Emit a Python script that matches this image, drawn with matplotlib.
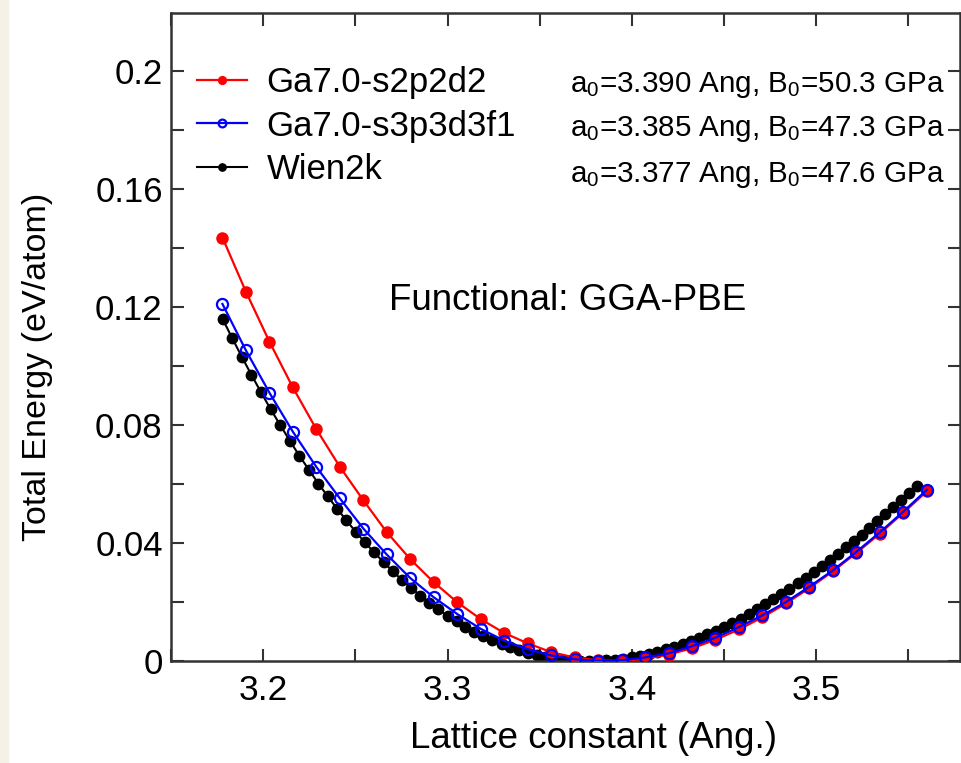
import matplotlib

matplotlib.use("Agg")

import matplotlib.pyplot as plt
from matplotlib.patches import Rectangle
from matplotlib.ticker import MultipleLocator

plt.rcParams["font.family"] = ["Liberation Sans", "DejaVu Sans"]
plt.rcParams["mathtext.fontset"] = "custom"
plt.rcParams["mathtext.rm"] = "Liberation Sans"
plt.rcParams["mathtext.default"] = "regular"

# Ga7.0 (OpenMX) curves: same lattice grid for both bases.
LATT = [3.1779, 3.1906, 3.2034, 3.2161, 3.2288, 3.2416, 3.2543, 3.2670,
        3.2798, 3.2925, 3.3053, 3.3180, 3.3307, 3.3435, 3.3562, 3.3689,
        3.3817, 3.3944, 3.4071, 3.4199, 3.4326, 3.4453, 3.4581, 3.4708,
        3.4836, 3.4963, 3.5090, 3.5218, 3.5345, 3.5472, 3.5600]
E_S2P2D2 = [0.1435, 0.1252, 0.1082, 0.0927, 0.0786, 0.0658, 0.0545, 0.0437,
            0.0345, 0.0267, 0.0199, 0.0142, 0.0095, 0.0060, 0.0030, 0.0012,
            0.0002, 0.0000, 0.0007, 0.0022, 0.0043, 0.0072, 0.0107, 0.0148,
            0.0195, 0.0247, 0.0304, 0.0366, 0.0432, 0.0502, 0.0575]
E_S3P3D3F1 = [0.1210, 0.1053, 0.0909, 0.0777, 0.0658, 0.0551, 0.0449, 0.0361,
              0.0281, 0.0216, 0.0159, 0.0109, 0.0069, 0.0040, 0.0019, 0.0006,
              0.0000, 0.0002, 0.0012, 0.0026, 0.0050, 0.0079, 0.0115, 0.0155,
              0.0200, 0.0252, 0.0307, 0.0370, 0.0436, 0.0506, 0.0580]

# Wien2k reference, denser grid
LATT_WIEN = [3.1780, 3.1832, 3.1884, 3.1936, 3.1988, 3.2040, 3.2092, 3.2144,
             3.2196, 3.2248, 3.2300, 3.2350, 3.2401, 3.2451, 3.2502, 3.2552,
             3.2602, 3.2653, 3.2703, 3.2754, 3.2804, 3.2853, 3.2902, 3.2951,
             3.3000, 3.3049, 3.3097, 3.3146, 3.3195, 3.3244, 3.3293, 3.3341,
             3.3388, 3.3436, 3.3483, 3.3531, 3.3578, 3.3626, 3.3673, 3.3721,
             3.3768, 3.3814, 3.3860, 3.3907, 3.3953, 3.3999, 3.4045, 3.4091,
             3.4138, 3.4184, 3.4230, 3.4275, 3.4320, 3.4365, 3.4410, 3.4455,
             3.4500, 3.4545, 3.4590, 3.4635, 3.4680, 3.4724, 3.4768, 3.4811,
             3.4855, 3.4899, 3.4943, 3.4987, 3.5030, 3.5074, 3.5118, 3.5161,
             3.5204, 3.5246, 3.5289, 3.5332, 3.5375, 3.5418, 3.5460, 3.5503,
             3.5546]
E_WIEN = [0.1159, 0.1094, 0.1031, 0.0970, 0.0911, 0.0854, 0.0800, 0.0747,
          0.0696, 0.0648, 0.0601, 0.0558, 0.0516, 0.0477, 0.0438, 0.0402,
          0.0368, 0.0335, 0.0304, 0.0274, 0.0247, 0.0221, 0.0197, 0.0175,
          0.0153, 0.0134, 0.0116, 0.0099, 0.0084, 0.0070, 0.0057, 0.0046,
          0.0036, 0.0028, 0.0020, 0.0014, 0.0009, 0.0005, 0.0002, 0.0001,
          0.0000, 0.0000, 0.0002, 0.0004, 0.0008, 0.0012, 0.0017, 0.0024,
          0.0031, 0.0039, 0.0048, 0.0057, 0.0067, 0.0078, 0.0090, 0.0103,
          0.0116, 0.0130, 0.0144, 0.0160, 0.0176, 0.0192, 0.0209, 0.0226,
          0.0244, 0.0263, 0.0282, 0.0302, 0.0322, 0.0342, 0.0364, 0.0385,
          0.0407, 0.0428, 0.0451, 0.0474, 0.0497, 0.0521, 0.0545, 0.0569,
          0.0594]

LABELS = ["Ga7.0-s2p2d2", "Ga7.0-s3p3d3f1", "Wien2k"]
FIT_A0 = ["3.390", "3.385", "3.377"]
FIT_B0 = ["50.3", "47.3", "47.6"]

SPINE = "#333333"

fig = plt.figure(figsize=(9.62, 7.63), dpi=100)
fig.patches.append(Rectangle((0, 0), 8 / 962, 1, transform=fig.transFigure,
                             color="#f6f1e6", zorder=-1))
ax = fig.add_axes([171 / 962, 1 - 661 / 763, 789 / 962, 648 / 763])

(h_wien,) = ax.plot(LATT_WIEN, E_WIEN, "-o", color="black", lw=1.5, ms=7.5,
                    zorder=2)
(h_s2,) = ax.plot(LATT, E_S2P2D2, "-o", color="red", lw=1.6, ms=8, zorder=3)
(h_s3,) = ax.plot(LATT, E_S3P3D3F1, "-o", color="blue", lw=1.6, ms=8,
                  mfc="none", mew=1.6, zorder=4)

ax.set_xlim(3.15, 3.578)
ax.set_ylim(0, 0.2196)
ax.xaxis.set_major_locator(MultipleLocator(0.1))
ax.xaxis.set_minor_locator(MultipleLocator(0.05))
ax.yaxis.set_major_locator(MultipleLocator(0.04))
ax.yaxis.set_minor_locator(MultipleLocator(0.02))
ax.yaxis.set_major_formatter(lambda v, _: f"{v:g}")
ax.xaxis.set_major_formatter(lambda v, _: f"{v:g}")

ax.tick_params(which="both", direction="in", top=True, right=True,
               length=9, width=1.5, color=SPINE)
ax.tick_params(axis="y", labelsize=25, pad=6)
ax.tick_params(axis="x", labelsize=25.5, pad=9)
for sp in ax.spines.values():
    sp.set_color(SPINE)
    sp.set_linewidth(1.8)

ax.set_xlabel("Lattice constant (Ang.)", fontsize=26.5)
ax.set_ylabel("Total Energy (eV/atom)", fontsize=24.5)
ax.xaxis.set_label_coords(0.536, -0.092)
ax.yaxis.set_label_coords(-0.150, 0.454)

ax.legend([h_s2, h_s3, h_wien], LABELS, loc="upper left",
          bbox_to_anchor=(0.033, 0.918), frameon=False, fontsize=25,
          borderpad=0, borderaxespad=0, handlelength=1.45, handletextpad=0.55,
          labelspacing=0.3, markerscale=0.7)

for yfrac, a0, b0 in zip([0.889, 0.821, 0.750], FIT_A0, FIT_B0):
    ax.text(0.981, yfrac, f"a$_0$={a0} Ang, B$_0$={b0} GPa",
            transform=ax.transAxes, ha="right", va="center", fontsize=21.3)

ax.text(0.503, 0.557, "Functional: GGA-PBE", transform=ax.transAxes,
        ha="center", va="center", fontsize=26.5)

fig.savefig("out.png", dpi=100)
